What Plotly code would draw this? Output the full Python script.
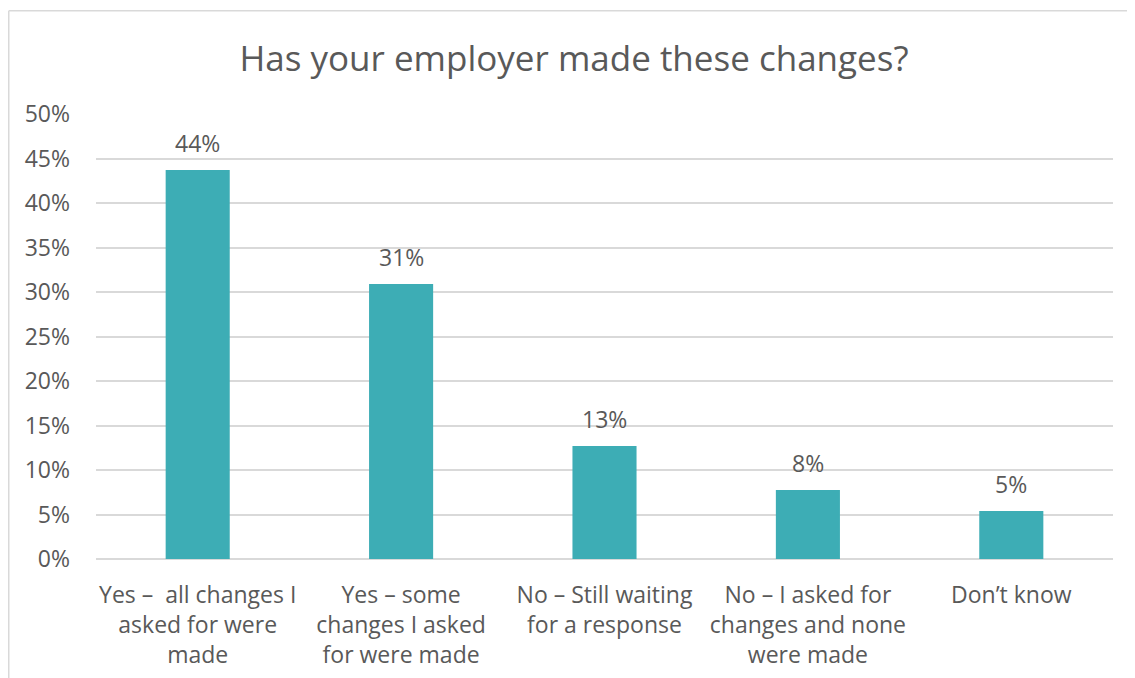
import plotly.graph_objects as go

categories = [
    "Yes –  all changes I<br>asked for were<br>made",
    "Yes – some<br>changes I asked<br>for were made",
    "No – Still waiting<br>for a response",
    "No – I asked for<br>changes and none<br>were made",
    "Don’t know",
]
values = [0.437, 0.309, 0.127, 0.0775, 0.054]
labels = ["44%", "31%", "13%", "8%", "5%"]
yticks = [0, 0.05, 0.10, 0.15, 0.20, 0.25, 0.30, 0.35, 0.40, 0.45, 0.50]

FONT = "Open Sans"
GRAY = "#595959"
OFF = 8  # page offset of the figure inside the window

fig = go.Figure()
fig.add_trace(go.Bar(x=categories, y=values, marker=dict(color="#3DADB5", line=dict(width=0)),
                     hoverinfo="skip"))

for c, v, t in zip(categories, values, labels):
    fig.add_annotation(x=c, y=v, text=t, showarrow=False, yanchor="middle", yshift=27,
                       font=dict(family=FONT, size=23, color=GRAY))

W, H = 1135, 678
L, R, T, B = 96 - OFF, 1135 - 1113 + OFF, 114 - OFF, 678 - 559 + OFF
pw, ph = W - L - R, H - T - B

def px(x):
    return (x - OFF - L) / pw

def py(y):
    return (H - B - (y - OFF)) / ph

fig.add_shape(type="line", xref="paper", yref="paper", x0=px(8.75), x1=px(1250), y0=py(10.75), y1=py(10.75),
              line=dict(color="#d9d9d9", width=1.5))
fig.add_shape(type="line", xref="paper", yref="paper", x0=px(8.75), x1=px(8.75), y0=py(10.75), y1=py(760),
              line=dict(color="#d9d9d9", width=1.5))

fig.update_layout(
    width=W, height=H,
    margin=dict(l=L, r=R, t=T, b=B),
    paper_bgcolor="white", plot_bgcolor="white",
    bargap=0.685,
    showlegend=False,
    title=dict(text="Has your employer made these changes?", xref="container", x=(574 - OFF) / W,
               yref="container", y=1 - (59 - OFF) / H, yanchor="middle", xanchor="center",
               font=dict(family=FONT, size=35, color=GRAY)),
    font=dict(family=FONT, color=GRAY, size=23),
    xaxis=dict(showgrid=False, showline=False, ticks="", tickfont=dict(size=23, color=GRAY),
               ticklabelstandoff=20, fixedrange=True),
    yaxis=dict(range=[0, 0.5], tickvals=yticks, tickformat=".0%", showgrid=True,
               gridcolor="#d9d9d9", gridwidth=1.5, zeroline=True, zerolinecolor="#d9d9d9",
               zerolinewidth=1.5, showline=False, ticks="", tickfont=dict(size=23, color=GRAY),
               ticklabelstandoff=25, fixedrange=True),
)

fig.write_html("out.html")
